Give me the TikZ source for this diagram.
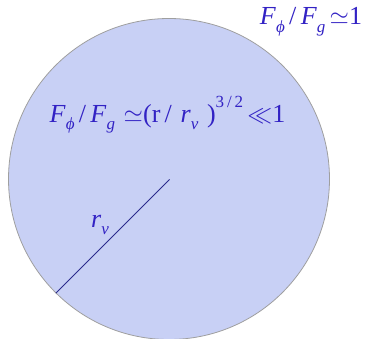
\documentclass[tikz,border=0pt]{standalone}
\usepackage{fontspec}
\setmainfont{Liberation Serif}
\usepackage{tikz}
\usetikzlibrary{positioning}
\definecolor{discfill}{HTML}{C8D0F5}
\definecolor{labelblue}{HTML}{3222C4}
\definecolor{radiusnavy}{HTML}{2A2A8C}
\newcommand{\lo}[1]{\raisebox{-0.3em}{\fontsize{17}{19}\selectfont\itshape #1}}
\newcommand{\hi}[1]{\raisebox{0.55em}{\fontsize{17}{19}\selectfont #1}}
\newcommand{\ratioF}{\textit{F}\lo{ϕ}\,/\,\textit{F}\lo{g}}

\begin{document}
\begin{tikzpicture}[x=1pt, y=-1pt,
    lab/.style={labelblue, inner sep=0pt, font=\fontsize{26}{30}\selectfont}]
  \useasboundingbox (0,0) rectangle (365,339);
  \fill[discfill, draw=gray!75, line width=0.8pt] (169,179) circle (160.5);
  \coordinate (centre) at (169.5,179.5);
  \coordinate (rim) at (55.8,293.2);
  \draw[radiusnavy, line width=0.8pt] (centre) -- (rim);
  \node[lab] (rv) at (100,225) {\textit{r}\lo{v}};
  \node[lab] (inner) at (167.5,115) {\ratioF\,\,$\simeq$(r\,/\,\,\textit{r}\lo{v}\,\,)\hi{3\,/\,2}\,$\ll$1};
  \node[lab] (outer) at (311,22) {\ratioF\,$\simeq$1};
\end{tikzpicture}
\end{document}
